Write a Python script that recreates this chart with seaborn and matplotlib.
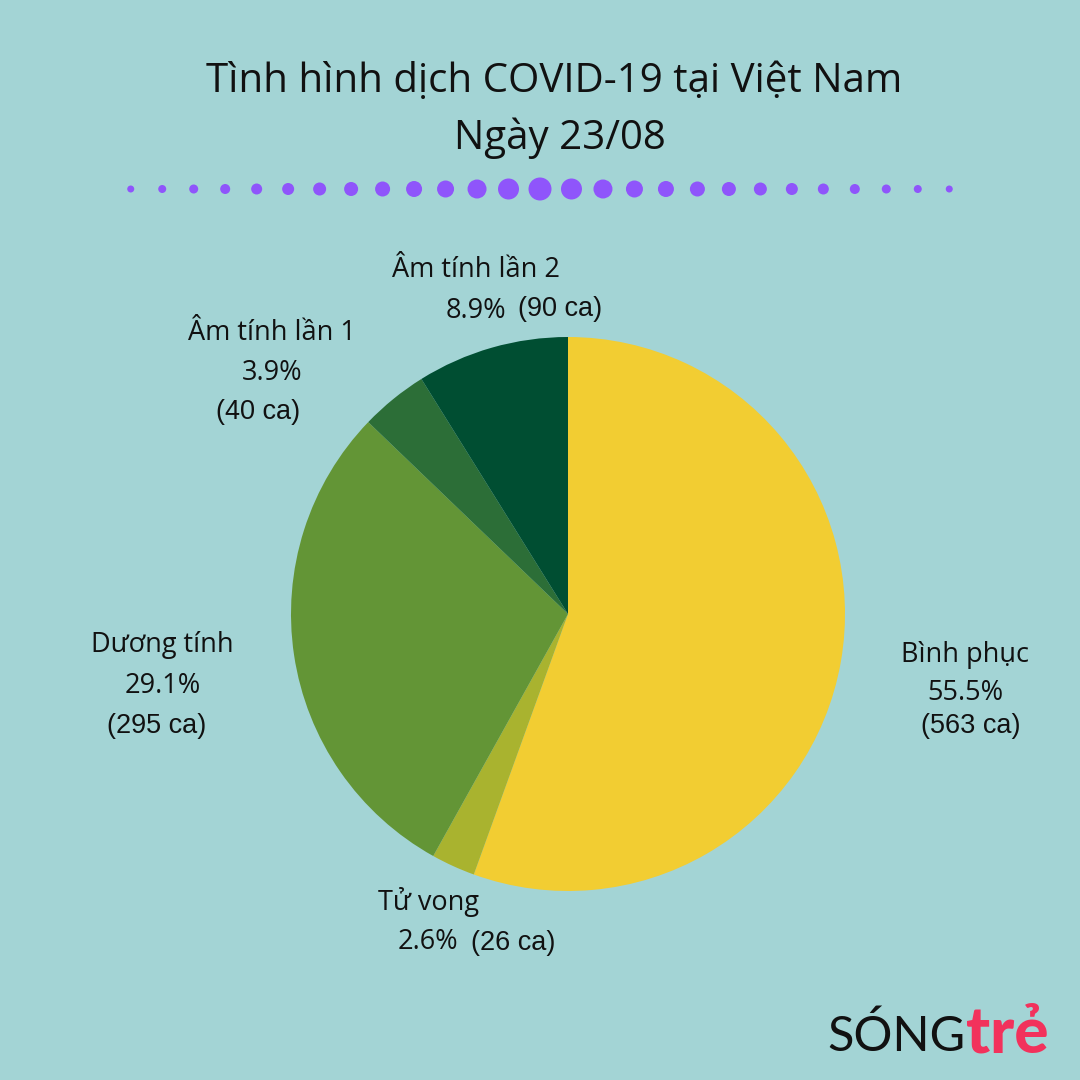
import matplotlib
matplotlib.use("Agg")
import matplotlib.pyplot as plt
import seaborn as sns
import pandas as pd

# số liệu
nhan = ["Bình phục", "Tử vong", "Dương tính", "Âm tính lần 1", "Âm tính lần 2"]
so_ca = [563, 26, 295, 40, 90]
phan_tram = ["55.5%", "2.6%", "29.1%", "3.9%", "8.9%"]
mau = ["#F2CD32", "#A9B32F", "#639536", "#2C6E37", "#004E32"]

# hàng chấm tím trang trí (đường kính, px)
cham_x = list(range(27))
cham_d = [7, 8, 9, 10, 11, 12, 13, 14, 15, 16, 17, 19, 21, 23,
          21, 19, 17, 16, 15, 14, 13, 12, 11, 10, 9, 8, 7]

nen = "#A3D4D5"
tim = "#8F55FB"

sns.set_theme(style="white")
plt.rcParams["font.family"] = ["Open Sans", "DejaVu Sans"]

W = 1080
fig = plt.figure(figsize=(10.8, 10.8), dpi=100)
fig.patch.set_facecolor(nen)


def px(x, y):
    return x / W, 1 - y / W


# tiêu đề
fig.text(*px(554, 82), "Tình hình dịch COVID-19 tại Việt Nam", ha="center", va="center",
         fontsize=29, color="#111111")
fig.text(*px(560, 138), "Ngày 23/08", ha="center", va="center", fontsize=29, color="#111111")

# chấm
ax_dot = fig.add_axes([115 / W, 1 - 205 / W, 850 / W, 32 / W])
df_dot = pd.DataFrame({"x": cham_x, "y": [0] * len(cham_x),
                       "s": [(d * 0.72) ** 2 for d in cham_d]})
ax_dot.scatter(df_dot["x"], df_dot["y"], s=df_dot["s"], color=tim, linewidths=0)
ax_dot.set_xlim(-0.5, 26.5)
ax_dot.set_ylim(-1, 1)
ax_dot.axis("off")

# bánh
cx, cy, r = 568, 614, 277
ax = fig.add_axes([(cx - r) / W, 1 - (cy + r) / W, 2 * r / W, 2 * r / W])
ax.pie(so_ca, colors=mau, startangle=90, counterclock=False, radius=1,
       wedgeprops=dict(linewidth=0))
ax.set_xlim(-1, 1)
ax.set_ylim(-1, 1)
ax.set_aspect("equal")
ax.axis("off")

# nhãn
fs = 19.5
arial = ["Liberation Sans", "DejaVu Sans"]
vi_tri = {
    "Bình phục": [(965, 655), (965, 693), (971, 726)],
    "Tử vong": [(429, 902), (428, 942), (513, 943)],
    "Dương tính": [(162, 645), (163, 686), (157, 726)],
    "Âm tính lần 1": [(272, 333), (272, 373), (258, 412)],
    "Âm tính lần 2": [(476, 270), (476, 311), (560, 309)],
}
for ten, pt, n in zip(nhan, phan_tram, so_ca):
    p1, p2, p3 = vi_tri[ten]
    fig.text(*px(*p1), ten, ha="center", va="center", fontsize=fs, color="#111111")
    fig.text(*px(*p2), pt, ha="center", va="center", fontsize=fs, color="#111111")
    fig.text(*px(*p3), f"({n} ca)", ha="center", va="center", fontsize=fs,
             color="#111111", family=arial)

# logo
fig.text(*px(827, 1036), "SÓNG", ha="left", va="center", fontsize=35,
         family=["Lato", "DejaVu Sans"], fontweight="normal", color="#111111")
fig.text(*px(966, 1034), "trẻ", ha="left", va="center", fontsize=46,
         family=["Lato", "DejaVu Sans"], fontweight="black", color="#F2325C")

fig.savefig("out.png", dpi=100, facecolor=nen)
